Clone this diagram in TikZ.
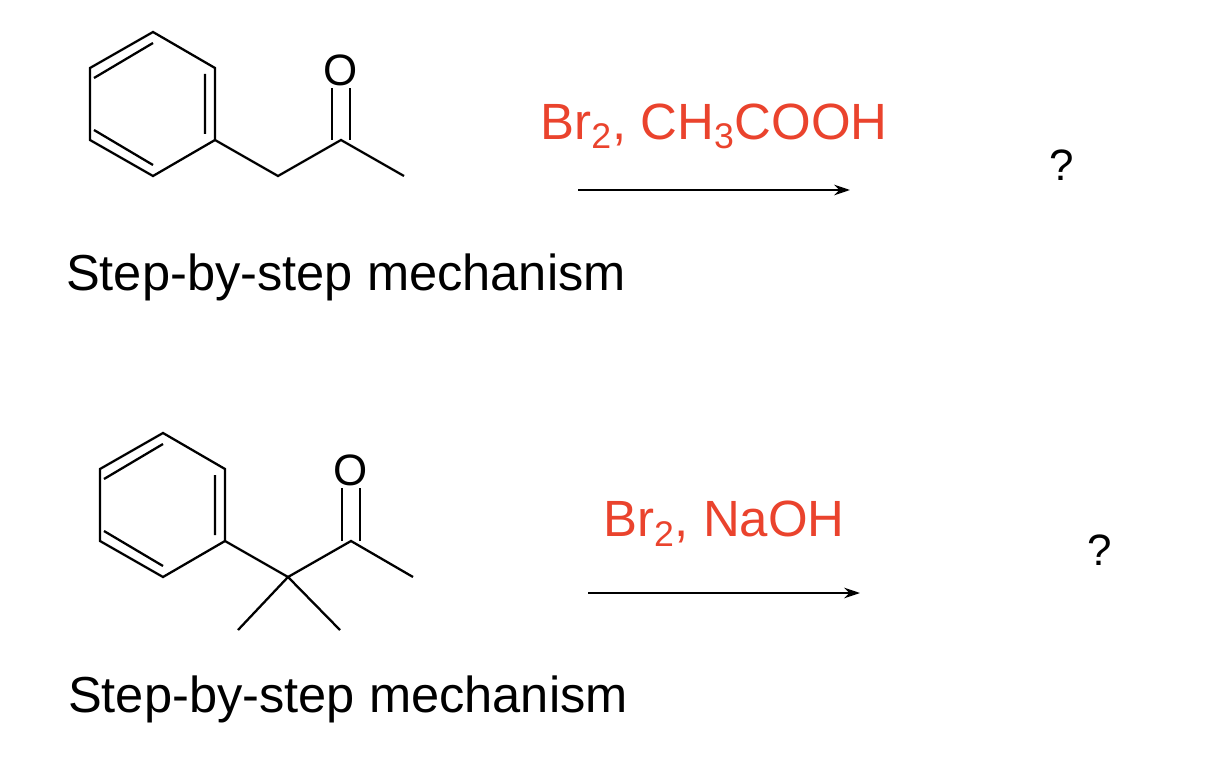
\documentclass[tikz,border=0pt]{standalone}
\usepackage{fontspec}
\setmainfont{Liberation Sans}
\usetikzlibrary{arrows.meta}
\definecolor{reagent}{RGB}{234,67,45}
\begin{document}
\begin{tikzpicture}[x=0.02cm,y=-0.02cm,line width=1.3pt,
  every node/.style={text depth=0},
  caption/.style={font=\fontsize{28.8}{32}\selectfont},
  cond/.style={font=\fontsize{29}{32}\selectfont,text=reagent},
  atom/.style={font=\fontsize{25}{28}\selectfont,inner sep=1pt},
  query/.style={font=\fontsize{25}{28}\selectfont},
  rxn/.style={-{Stealth[length=9pt,width=6pt]}}]
\useasboundingbox (0,0) rectangle (1210,760);
% first ketone
\foreach \n/\x/\y in {a1/153/32,a2/215/68,a3/215/140,a4/153/176,a5/90/140,a6/90/68} \coordinate (\n) at (\x,\y);
\draw (a1)--(a2)--(a3)--(a4)--(a5)--(a6)--cycle;
\draw ([shift={(4,10)}]a6)--([shift={(0,11)}]a1) ([shift={(-10,6)}]a2)--([shift={(-10,-6)}]a3) ([shift={(0,-11)}]a4)--([shift={(4,-10)}]a5);
\coordinate (b1) at (278,176); \coordinate (b2) at (341,140); \coordinate (b3) at (404,176);
\node[atom] (o1) at (341,70) {O};
\draw (a3)--(b1)--(b2)--(b3);
\draw ([xshift=-5]b2)--([xshift=-5]o1.south) ([xshift=5]b2)--([xshift=5]o1.south);
\node[caption] (cap1) at (346,272) {Step-by-step mechanism};
\coordinate (r1) at (578,190); \coordinate (p1) at (850,190);
\draw[rxn] (r1)--(p1) node[cond,midway,above=25] {Br\textsubscript{2}, CH\textsubscript{3}COOH};
\node[query] (q1) at (1062,165) {?};
% second ketone
\foreach \n/\x/\y in {c1/163/433,c2/225/469,c3/225/541,c4/163/577,c5/100/541,c6/100/469} \coordinate (\n) at (\x,\y);
\draw (c1)--(c2)--(c3)--(c4)--(c5)--(c6)--cycle;
\draw ([shift={(4,10)}]c6)--([shift={(0,11)}]c1) ([shift={(-10,6)}]c2)--([shift={(-10,-6)}]c3) ([shift={(0,-11)}]c4)--([shift={(4,-10)}]c5);
\coordinate (d1) at (288,577); \coordinate (d2) at (351,541); \coordinate (d3) at (413,577);
\coordinate (m1) at (238,630); \coordinate (m2) at (340,630);
\node[atom] (o2) at (351,470) {O};
\draw (c3)--(d1)--(d2)--(d3) (m1)--(d1)--(m2);
\draw ([xshift=-5]d2)--([xshift=-5]o2.south) ([xshift=5]d2)--([xshift=5]o2.south);
\node[caption] (cap2) at (348,694) {Step-by-step mechanism};
\coordinate (r2) at (588,593); \coordinate (p2) at (860,593);
\draw[rxn] (r2)--(p2) node[cond,midway,above=28] {Br\textsubscript{2}, NaOH};
\node[query] (q2) at (1100,550) {?};
\end{tikzpicture}
\end{document}
